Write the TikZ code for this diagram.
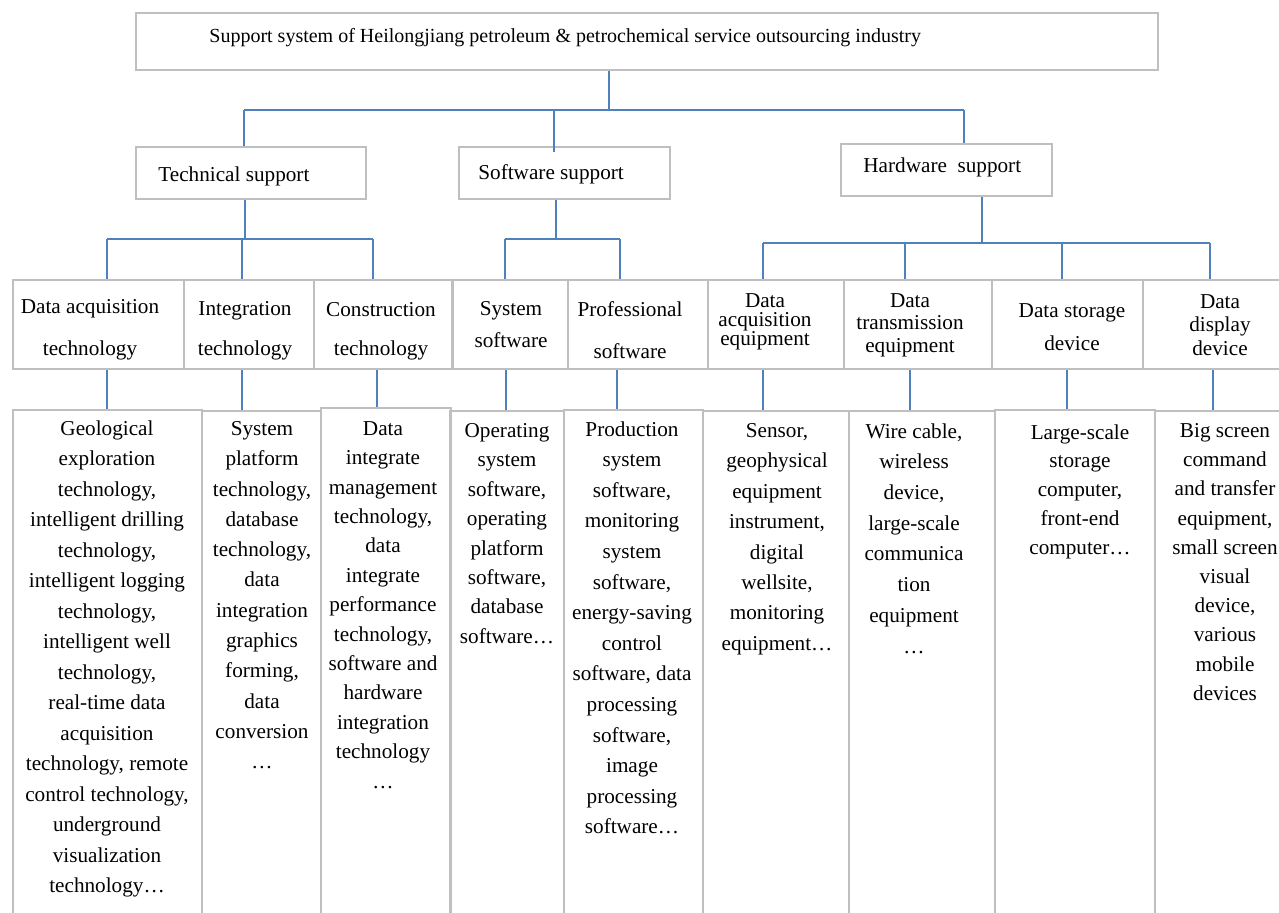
\documentclass[tikz,border=0pt]{standalone}
\usepackage{fontspec}
\setmainfont{Liberation Serif}
\definecolor{boxgray}{RGB}{191,191,191}
\definecolor{linkblue}{RGB}{79,129,189}

\begin{document}
\begin{tikzpicture}[x=0.5pt,y=-0.5pt,
  box/.style={draw=boxgray,line width=1pt,inner sep=0pt,anchor=north west},
  link/.style={draw=linkblue,line width=0.9pt},
  lbl/.style={inner sep=0pt,font=\fontsize{10.6}{13}\selectfont},
  leaf/.style={lbl,anchor=north,align=center}]
\useasboundingbox (0,0) rectangle (1279,913);
\clip (0,0) rectangle (1279,913);

% top box
\node[box,minimum width=511pt,minimum height=28.5pt] (top) at (135,12) {};
\node[lbl,font=\fontsize{10}{12}\selectfont,anchor=base west] (top-t) at (209,43) {Support system of Heilongjiang petroleum \& petrochemical service outsourcing industry};

% second row
\node[box,minimum width=115pt,minimum height=26pt] (tech) at (135,146) {};
\node[lbl,anchor=base west] (tech-t) at (158,182) {Technical support};
\node[box,minimum width=105.5pt,minimum height=26pt] (soft) at (458,146) {};
\node[lbl,anchor=base west] (soft-t) at (478,180) {Software support};
\node[box,minimum width=105.5pt,minimum height=26pt] (hard) at (840,143) {};
\node[lbl,anchor=base west] (hard-t) at (863,173) {Hardware\ \ support};

% third row
\node[box,minimum width=85.5pt,minimum height=44.5pt] (da) at (12,279) {};
\node[box,minimum width=65pt,minimum height=44.5pt] (integ) at (183,279) {};
\node[box,minimum width=69pt,minimum height=44.5pt] (constr) at (313,279) {};
\node[box,minimum width=57.5pt,minimum height=44.5pt] (syssw) at (452,279) {};
\node[box,minimum width=70pt,minimum height=44.5pt] (profsw) at (567,279) {};
\node[box,minimum width=68pt,minimum height=44.5pt] (daeq) at (707,279) {};
\node[box,minimum width=74pt,minimum height=44.5pt] (dteq) at (843,279) {};
\node[box,minimum width=75.5pt,minimum height=44.5pt] (dsdev) at (991,279) {};
\node[box,minimum width=79pt,minimum height=44.5pt] (dddev) at (1142,279) {};

\node[leaf,font=\fontsize{10.6}{21}\selectfont] (da-t) at (90,299) {Data acquisition\\technology};
\node[leaf,font=\fontsize{10.6}{20}\selectfont] (integ-t) at (245,301) {Integration\\technology};
\node[leaf,font=\fontsize{10.6}{19.5}\selectfont] (constr-t) at (381,302) {Construction\\technology};
\node[leaf,font=\fontsize{10.6}{16}\selectfont] (syssw-t) at (511,301) {System\\software};
\node[leaf,font=\fontsize{10.6}{21}\selectfont] (profsw-t) at (630,301) {Professional\\software};
\node[leaf,font=\fontsize{10.6}{9.5}\selectfont] (daeq-t) at (765,293) {Data\\acquisition\\equipment};
\node[leaf,font=\fontsize{10.6}{11.25}\selectfont] (dteq-t) at (910,293) {Data\\transmission\\equipment};
\node[leaf,font=\fontsize{10.6}{16.5}\selectfont] (dsdev-t) at (1072,303) {Data storage\\device};
\node[leaf,font=\fontsize{10.6}{11.75}\selectfont] (dddev-t) at (1220,294) {Data\\display\\device};

% bottom row
\node[box,minimum width=94.5pt,minimum height=256pt] (g1) at (12,409) {};
\node[box,minimum width=59.5pt,minimum height=256pt] (g2) at (201,410) {};
\node[box,minimum width=65pt,minimum height=256pt] (g3) at (320,407) {};
\node[box,minimum width=57pt,minimum height=256pt] (g4) at (449,410) {};
\node[box,minimum width=69.5pt,minimum height=256pt] (g5) at (563,409) {};
\node[box,minimum width=73pt,minimum height=256pt] (g6) at (702,410) {};
\node[box,minimum width=73pt,minimum height=256pt] (g7) at (848,410) {};
\node[box,minimum width=80pt,minimum height=256pt] (g8) at (994,409) {};
\node[box,minimum width=73pt,minimum height=256pt] (g9) at (1154,410) {};

\node[leaf,font=\fontsize{10.6}{15.25}\selectfont] (g1-t) at (107,420) {Geological\\exploration\\technology,\\intelligent drilling\\technology,\\intelligent logging\\technology,\\intelligent well\\technology,\\real-time data\\acquisition\\technology, remote\\control technology,\\underground\\visualization\\technology…};
\node[leaf,font=\fontsize{10.6}{15.15}\selectfont] (g2-t) at (262,421) {System\\platform\\technology,\\database\\technology,\\data\\integration\\graphics\\forming,\\data\\conversion\\…};
\node[leaf,font=\fontsize{10.6}{14.7}\selectfont] (g3-t) at (383,421) {Data\\integrate\\management\\technology,\\data\\integrate\\performance\\technology,\\software and\\hardware\\integration\\technology\\…};
\node[leaf,font=\fontsize{10.6}{14.7}\selectfont] (g4-t) at (507,423) {Operating\\system\\software,\\operating\\platform\\software,\\database\\software…};
\node[leaf,font=\fontsize{10.6}{15.3}\selectfont] (g5-t) at (632,421) {Production\\system\\software,\\monitoring\\system\\software,\\energy-saving\\control\\software, data\\processing\\software,\\image\\processing\\software…};
\node[leaf,font=\fontsize{10.6}{15.2}\selectfont] (g6-t) at (777,423) {Sensor,\\geophysical\\equipment\\instrument,\\digital\\wellsite,\\monitoring\\equipment…};
\node[leaf,font=\fontsize{10.6}{15.35}\selectfont] (g7-t) at (914,423) {Wire cable,\\wireless\\device,\\large-scale\\communica\\tion\\equipment\\…};
\node[leaf,font=\fontsize{10.6}{14.4}\selectfont] (g8-t) at (1080,424) {Large-scale\\storage\\computer,\\front-end\\computer…};
\node[leaf,font=\fontsize{10.6}{14.6}\selectfont] (g9-t) at (1225,423) {Big screen\\command\\and transfer\\equipment,\\small screen\\visual\\device,\\various\\mobile\\devices};

% connectors top -> second row
\coordinate (b0) at (609,110);
\coordinate (b1) at (244,110);
\coordinate (b2) at (554,110);
\coordinate (b3) at (964,110);
\draw[link] (top.south -| b0) -- (b0);
\draw[link] (b1) -- (b3);
\draw[link] (b1) -- (b1 |- tech.north);
\draw[link] (b2) -- ([yshift=-3pt]b2 |- soft.north);
\draw[link] (b3) -- (b3 |- hard.north);

% technical support
\coordinate (t0) at (245,239);
\coordinate (t1) at (107,239);
\coordinate (t2) at (242,239);
\coordinate (t3) at (373,239);
\draw[link] (t0 |- tech.south) -- (t0);
\draw[link] (t1) -- (t3);
\draw[link] (t1) -- (t1 |- da.north);
\draw[link] (t2) -- (t2 |- integ.north);
\draw[link] (t3) -- (t3 |- constr.north);

% software support
\coordinate (s0) at (556,239);
\coordinate (s1) at (505,239);
\coordinate (s2) at (620,239);
\draw[link] (s0 |- soft.south) -- (s0);
\draw[link] (s1) -- (s2);
\draw[link] (s1) -- (s1 |- syssw.north);
\draw[link] (s2) -- (s2 |- profsw.north);

% hardware support
\coordinate (h0) at (982,243);
\coordinate (h1) at (763,243);
\coordinate (h2) at (905,243);
\coordinate (h3) at (1062,243);
\coordinate (h4) at (1210,243);
\draw[link] (h0 |- hard.south) -- (h0);
\draw[link] (h1) -- (h4);
\draw[link] (h1) -- (h1 |- daeq.north);
\draw[link] (h2) -- (h2 |- dteq.north);
\draw[link] (h3) -- (h3 |- dsdev.north);
\draw[link] (h4) -- (h4 |- dddev.north);

% third row -> bottom row
\draw[link] (107,0 |- da.south) -- (107,0 |- g1.north);
\draw[link] (242,0 |- integ.south) -- (242,0 |- g2.north);
\draw[link] (377,0 |- constr.south) -- (377,0 |- g3.north);
\draw[link] (506,0 |- syssw.south) -- (506,0 |- g4.north);
\draw[link] (617,0 |- profsw.south) -- (617,0 |- g5.north);
\draw[link] (763,0 |- daeq.south) -- (763,0 |- g6.north);
\draw[link] (910,0 |- dteq.south) -- (910,0 |- g7.north);
\draw[link] (1067,0 |- dsdev.south) -- (1067,0 |- g8.north);
\draw[link] (1213,0 |- dddev.south) -- (1213,0 |- g9.north);
\end{tikzpicture}
\end{document}
